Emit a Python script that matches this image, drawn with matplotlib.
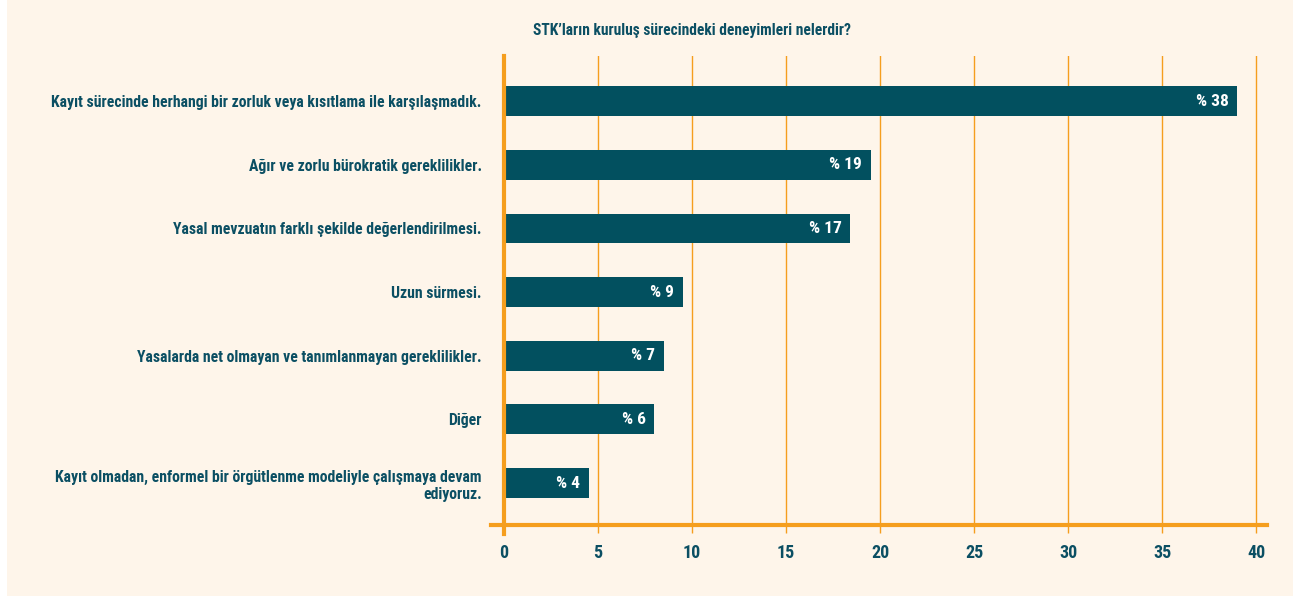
import matplotlib.pyplot as plt
from matplotlib.patches import Rectangle
from matplotlib.lines import Line2D

plt.rcParams['font.family'] = ['Roboto Condensed', 'Liberation Sans Narrow', 'DejaVu Sans']
plt.rcParams['font.stretch'] = 'condensed'

title = "STK\u2019ların kuruluş sürecindeki deneyimleri nelerdir?"
categories = [
    "Kayıt sürecinde herhangi bir zorluk veya kısıtlama ile karşılaşmadık.",
    "Ağır ve zorlu bürokratik gereklilikler.",
    "Yasal mevzuatın farklı şekilde değerlendirilmesi.",
    "Uzun sürmesi.",
    "Yasalarda net olmayan ve tanımlanmayan gereklilikler.",
    "Diğer",
    "Kayıt olmadan, enformel bir örgütlenme modeliyle çalışmaya devam\nediyoruz.",
]
values = [39, 19.5, 18.4, 9.5, 8.5, 8, 4.5]
bar_labels = ["% 38", "% 19", "% 17", "% 9", "% 7", "% 6", "% 4"]
xticks = [0, 5, 10, 15, 20, 25, 30, 35, 40]

teal = '#02505F'
text_col = '#0B4F63'
orange = '#F59E1E'
cream = '#FEF5EA'

fig = plt.figure(figsize=(12.99, 5.96), dpi=100, facecolor='white')
fig.patches.append(Rectangle((7/1299, 0), (1293-7)/1299, 1, transform=fig.transFigure,
                             facecolor=cream, edgecolor='none', zorder=-10))

ax = fig.add_axes([504/1299, 1-525/596, (1267-504)/1299, (525-56)/596])
ax.set_facecolor('none')

ypos = list(range(len(categories)))
ax.barh(ypos, values, height=0.47, color=teal, zorder=3)
for y, v, lab in zip(ypos, values, bar_labels):
    ax.text(v - 0.45, y, lab, ha='right', va='center', color='white',
            fontsize=12.5, fontweight='bold', zorder=4)

ax.set_xlim(0, 40.58)
ax.set_ylim(6.66, -0.71)
ax.set_xticks(xticks)
ax.set_xticklabels([str(t) for t in xticks], color=text_col, fontsize=13, fontweight='bold')
ax.set_yticks(ypos)
ax.set_yticklabels(categories, color=text_col, fontsize=11.3, fontweight='bold',
                   linespacing=1.2)
ax.tick_params(axis='y', length=0, pad=16)
ax.tick_params(axis='x', length=6, width=1, color=orange, pad=8)
ax.grid(axis='x', color=orange, linewidth=1, zorder=1)
for s in ax.spines.values():
    s.set_visible(False)

# axis lines
ax.add_line(Line2D([-0.017, 1.0], [0, 0], transform=ax.transAxes, color=orange,
                   linewidth=3, clip_on=False, zorder=5))
ax.add_line(Line2D([0, 0], [-0.019, 1.0], transform=ax.transAxes, color=orange,
                   linewidth=3, clip_on=False, zorder=5))

fig.text(692/1299, 1-30/596, title, ha='center', va='center', color=text_col,
         fontsize=11.2, fontweight='bold')

fig.savefig('out.png', dpi=100, facecolor='white')
